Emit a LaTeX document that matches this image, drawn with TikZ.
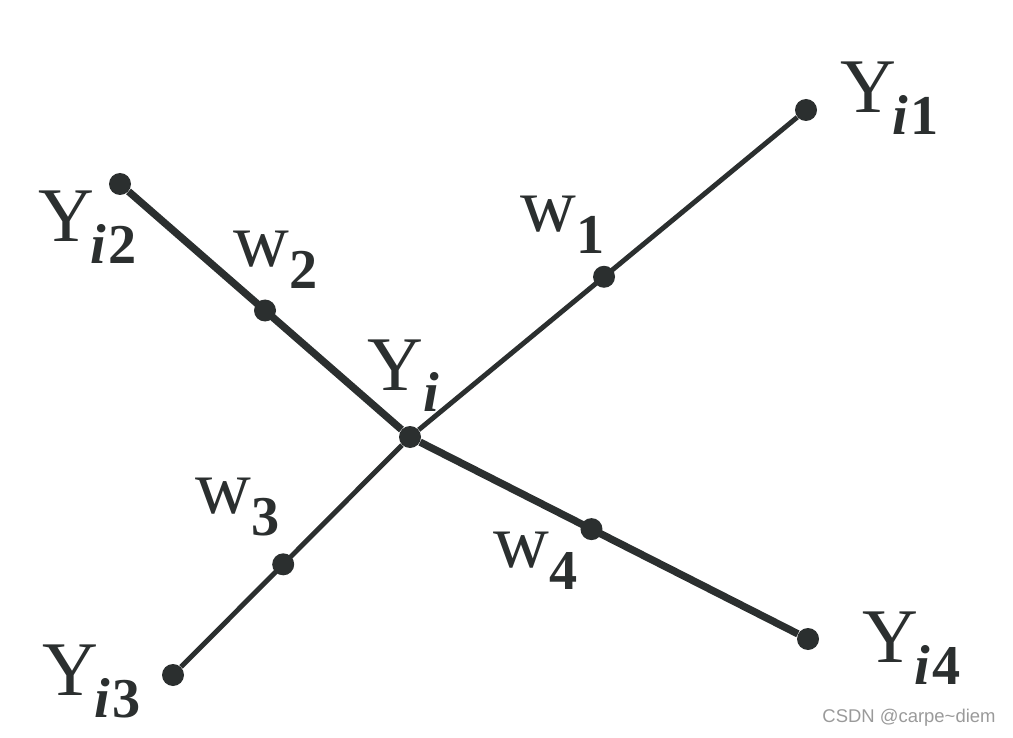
\documentclass[tikz,border=0pt]{standalone}
\usepackage{fontspec}
\setmainfont{Liberation Serif}
\newfontfamily\markfont{Liberation Sans}
\usetikzlibrary{positioning, calc}
\definecolor{Ink}{HTML}{2B2F2F}
\definecolor{Mark}{HTML}{9A9A9A}

\newcommand{\lowsub}[1]{\raisebox{-0.44cm}{\fontsize{32}{34}\selectfont\bfseries #1}}
\newcommand{\ylab}[1]{Y\kern-2pt\lowsub{\itshape i\upshape\kern1.5pt #1}}
\newcommand{\wlab}[1]{w\lowsub{#1}}

\begin{document}
\begin{tikzpicture}[
    dot/.style={circle, fill=Ink, inner sep=0pt, minimum size=0.44cm},
    lab/.style={anchor=base west, inner sep=0pt, text=Ink, font=\fontsize{44}{48}\selectfont},
    heavy/.style={Ink, line width=4.2pt},
    light/.style={Ink, line width=2.8pt}
]
\useasboundingbox (0,0) rectangle (20.26,14.74);

% Centre and ends
\node[dot] (yi)  at (8.20,6.00) {};
\node[dot] (yi1) at (16.12,12.54) {};
\node[dot] (yi2) at (2.40,11.06) {};
\node[dot] (yi3) at (3.46,1.24) {};
\node[dot] (yi4) at (16.16,1.96) {};

% Weights
\node[dot] (w1) at ($(yi)!0.49!(yi1)$) {};
\node[dot] (w2) at ($(yi)!0.50!(yi2)$) {};
\node[dot] (w3) at ($(yi)!0.535!(yi3)$) {};
\node[dot] (w4) at ($(yi)!0.456!(yi4)$) {};

% Edges
\draw[heavy] (yi2) -- (yi) -- (yi4);
\draw[light] (yi3) -- (yi) -- (yi1);

% Labels
\node[lab] (lyi)  at (7.34,6.94) {Y\lowsub{\itshape i}};
\node[lab] (lyi1) at (16.80,12.48) {\ylab{1}};
\node[lab] (lyi2) at (0.76,9.90) {\ylab{2}};
\node[lab] (lyi3) at (0.84,0.84) {\ylab{3}};
\node[lab] (lyi4) at (17.24,1.50) {\ylab{4}};
\node[lab] (lw1) at (10.40,10.10) {\wlab{1}};
\node[lab] (lw2) at (4.66,9.40) {\wlab{2}};
\node[lab] (lw3) at (3.90,4.48) {\wlab{3}};
\node[lab] (lw4) at (9.86,3.40) {\wlab{4}};

% Watermark
\node[text=Mark, font=\markfont\fontsize{10.5}{12}\selectfont] (mark) at (18.18,0.38) {CSDN @carpe\textasciitilde diem};

\end{tikzpicture}
\end{document}
